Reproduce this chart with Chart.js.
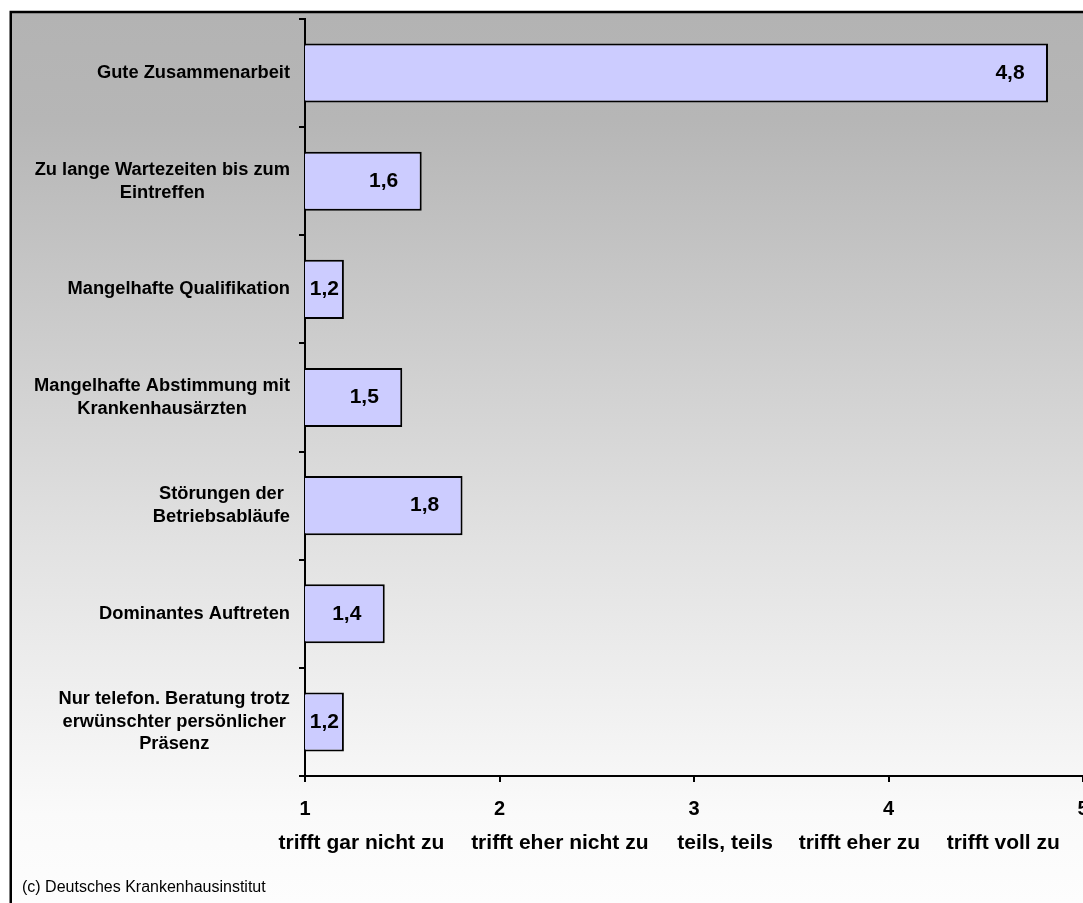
<!DOCTYPE html>
<html>
<head>
<meta charset="utf-8">
<script src="https://cdn.jsdelivr.net/npm/chart.js@4.4.1/dist/chart.umd.min.js"></script>
<style>
html,body{margin:0;padding:0;overflow:hidden;background:#fff;width:1083px;height:903px;}
#wrap{position:absolute;left:0;top:0;width:1140px;height:960px;}
</style>
</head>
<body>
<div id="wrap"><canvas id="c" width="1140" height="960"></canvas></div>
<script>
const categories = [
  ["Gute Zusammenarbeit"],
  ["Zu lange Wartezeiten bis zum", "Eintreffen"],
  ["Mangelhafte Qualifikation"],
  ["Mangelhafte Abstimmung mit", "Krankenhausärzten"],
  ["Störungen der", "Betriebsabläufe"],
  ["Dominantes Auftreten"],
  ["Nur telefon. Beratung trotz", "erwünschter persönlicher", "Präsenz"]
];
const values = [4.82, 1.6, 1.2, 1.5, 1.81, 1.41, 1.2];
const tickLabels = ["1", "2", "3", "4", "5"];
const scaleLabels = ["trifft gar nicht zu", "trifft eher nicht zu", "teils, teils", "trifft eher zu", "trifft voll zu"];
const sourceNote = "(c) Deutsches Krankenhausinstitut";

const FONT = '"Liberation Sans", Arial, Helvetica, sans-serif';

const backgroundPlugin = {
  id: 'bg',
  beforeDraw(chart) {
    const ctx = chart.ctx;
    const w = chart.width, h = chart.height;
    ctx.save();
    ctx.fillStyle = '#ffffff';
    ctx.fillRect(0, 0, w, h);
    const g = ctx.createLinearGradient(0, 13, 0, 903);
    g.addColorStop(0, '#b3b3b3');
    g.addColorStop(0.12, '#b6b6b6');
    g.addColorStop(0.6, '#e2e2e2');
    g.addColorStop(0.9, '#fafafa');
    g.addColorStop(1, '#fdfdfd');
    ctx.fillStyle = g;
    ctx.fillRect(11, 12, w, h);
    ctx.strokeStyle = '#000';
    ctx.lineWidth = 2.5;
    ctx.beginPath();
    ctx.moveTo(10.75, h);
    ctx.lineTo(10.75, 12);
    ctx.lineTo(w, 12);
    ctx.stroke();
    ctx.restore();
  },
  afterDraw(chart) {
    const ctx = chart.ctx;
    const yScale = chart.scales.y;
    const xScale = chart.scales.x;
    ctx.save();
    ctx.fillStyle = '#000';
    // category labels: block right-aligned, lines centered
    ctx.font = 'bold 18.3px ' + FONT;
    ctx.textBaseline = 'middle';
    ctx.textAlign = 'center';
    const lh = 22.5;
    chart.data.labels.forEach((lines, i) => {
      const yc = yScale.getPixelForValue(i);
      let maxW = 0;
      lines.forEach(l => { maxW = Math.max(maxW, ctx.measureText(l).width); });
      const cx = 290 - maxW / 2;
      const y0 = yc - (lines.length - 1) * lh / 2;
      lines.forEach((l, k) => ctx.fillText(l, cx, y0 + k * lh));
    });
    // scale meaning labels
    ctx.font = 'bold 21px ' + FONT;
    const anchors = [1.29, 2.31, 3.16, 3.85, 4.59];
    scaleLabels.forEach((t, i) => {
      ctx.fillText(t, xScale.getPixelForValue(anchors[i]), 843);
    });
    // source note
    ctx.font = '16px ' + FONT;
    ctx.textAlign = 'left';
    ctx.fillText(sourceNote, 22, 888);
    // value labels
    ctx.font = 'bold 21px ' + FONT;
    ctx.textAlign = 'center';
    const basePx = xScale.getPixelForValue(xScale.min);
    const meta = chart.getDatasetMeta(0);
    meta.data.forEach((bar, i) => {
      const end = bar.x;
      const cx = Math.max((end + basePx) / 2, end - 38);
      ctx.fillText(values[i].toFixed(1).replace('.', ','), cx, bar.y);
    });
    ctx.restore();
  }
};

new Chart(document.getElementById('c'), {
  type: 'bar',
  data: {
    labels: categories,
    datasets: [{
      data: values,
      backgroundColor: '#ccccff',
      borderColor: '#000000',
      borderWidth: 2,
      borderSkipped: false,
      barPercentage: 0.546,
      categoryPercentage: 1
    }]
  },
  options: {
    indexAxis: 'y',
    responsive: false,
    animation: false,
    devicePixelRatio: 1,
    layout: { padding: { left: 0, top: 19, right: 57, bottom: 0 } },
    plugins: { legend: { display: false }, tooltip: { enabled: false } },
    scales: {
      x: {
        min: 1, max: 5,
        ticks: {
          stepSize: 1,
          color: '#000',
          font: { family: FONT, size: 20, weight: 'bold' },
          padding: 15,
          callback: (v, i) => tickLabels[i]
        },
        grid: { drawOnChartArea: false, color: '#000', lineWidth: 2, tickLength: 6 },
        border: { color: '#000', width: 2 },
        afterFit: s => { s.height = 184; }
      },
      y: {
        ticks: { display: false },
        grid: { drawOnChartArea: false, color: '#000', lineWidth: 2, tickLength: 6, offset: true },
        border: { color: '#000', width: 2 },
        afterFit: s => { s.width = 305; }
      }
    }
  },
  plugins: [backgroundPlugin]
});
</script>
</body>
</html>
